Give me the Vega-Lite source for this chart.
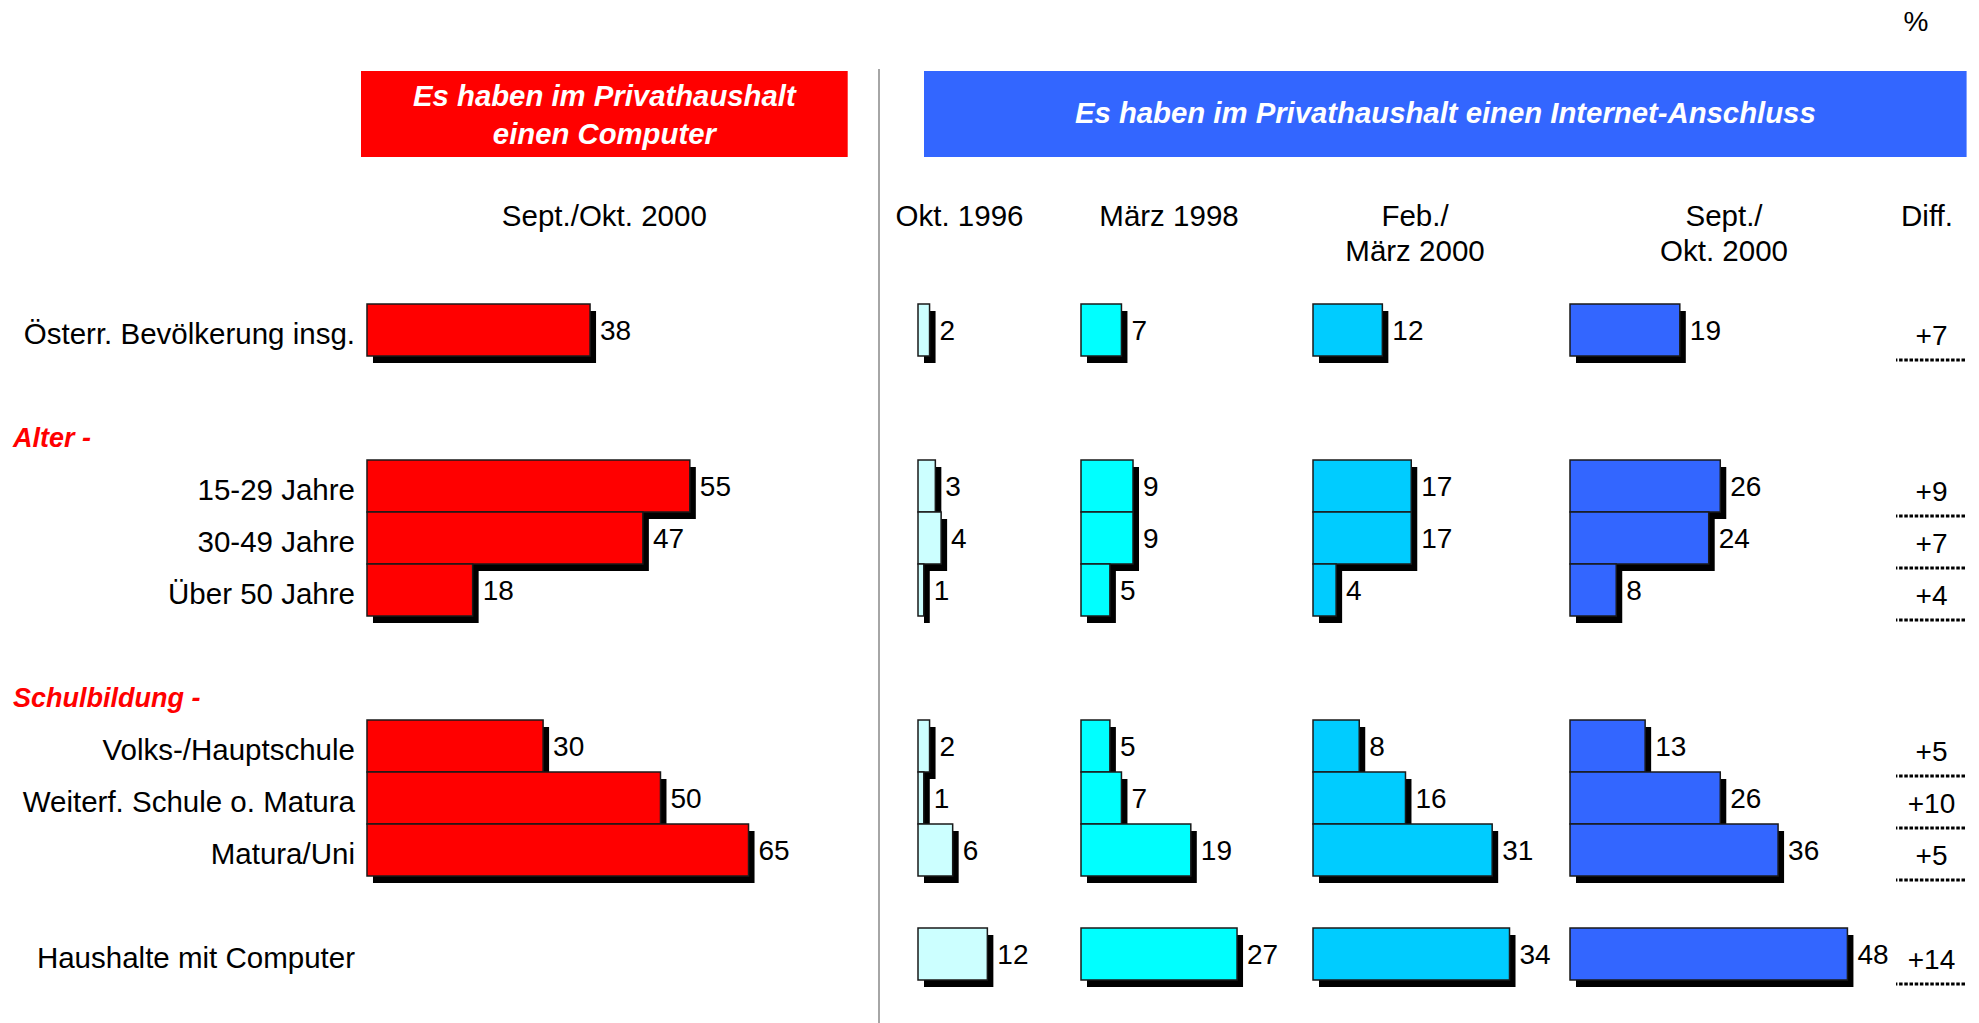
{
  "$schema": "https://vega.github.io/schema/vega-lite/v6.json",
  "padding": 0,
  "spacing": 0,
  "background": "white",
  "config": {
    "view": {"stroke": null},
    "font": "Liberation Sans",
    "text": {"font": "Liberation Sans", "fontSize": 28, "fill": "#000000"}
  },
  "datasets": {
    "bars": [
      {"row": "Österr. Bevölkerung insg.", "survey": "Computer Sept./Okt. 2000", "value": 38},
      {"row": "15-29 Jahre", "survey": "Computer Sept./Okt. 2000", "value": 55},
      {"row": "30-49 Jahre", "survey": "Computer Sept./Okt. 2000", "value": 47},
      {"row": "Über 50 Jahre", "survey": "Computer Sept./Okt. 2000", "value": 18},
      {"row": "Volks-/Hauptschule", "survey": "Computer Sept./Okt. 2000", "value": 30},
      {"row": "Weiterf. Schule o. Matura", "survey": "Computer Sept./Okt. 2000", "value": 50},
      {"row": "Matura/Uni", "survey": "Computer Sept./Okt. 2000", "value": 65},
      {"row": "Österr. Bevölkerung insg.", "survey": "Okt. 1996", "value": 2},
      {"row": "15-29 Jahre", "survey": "Okt. 1996", "value": 3},
      {"row": "30-49 Jahre", "survey": "Okt. 1996", "value": 4},
      {"row": "Über 50 Jahre", "survey": "Okt. 1996", "value": 1},
      {"row": "Volks-/Hauptschule", "survey": "Okt. 1996", "value": 2},
      {"row": "Weiterf. Schule o. Matura", "survey": "Okt. 1996", "value": 1},
      {"row": "Matura/Uni", "survey": "Okt. 1996", "value": 6},
      {"row": "Haushalte mit Computer", "survey": "Okt. 1996", "value": 12},
      {"row": "Österr. Bevölkerung insg.", "survey": "März 1998", "value": 7},
      {"row": "15-29 Jahre", "survey": "März 1998", "value": 9},
      {"row": "30-49 Jahre", "survey": "März 1998", "value": 9},
      {"row": "Über 50 Jahre", "survey": "März 1998", "value": 5},
      {"row": "Volks-/Hauptschule", "survey": "März 1998", "value": 5},
      {"row": "Weiterf. Schule o. Matura", "survey": "März 1998", "value": 7},
      {"row": "Matura/Uni", "survey": "März 1998", "value": 19},
      {"row": "Haushalte mit Computer", "survey": "März 1998", "value": 27},
      {"row": "Österr. Bevölkerung insg.", "survey": "Feb./März 2000", "value": 12},
      {"row": "15-29 Jahre", "survey": "Feb./März 2000", "value": 17},
      {"row": "30-49 Jahre", "survey": "Feb./März 2000", "value": 17},
      {"row": "Über 50 Jahre", "survey": "Feb./März 2000", "value": 4},
      {"row": "Volks-/Hauptschule", "survey": "Feb./März 2000", "value": 8},
      {"row": "Weiterf. Schule o. Matura", "survey": "Feb./März 2000", "value": 16},
      {"row": "Matura/Uni", "survey": "Feb./März 2000", "value": 31},
      {"row": "Haushalte mit Computer", "survey": "Feb./März 2000", "value": 34},
      {"row": "Österr. Bevölkerung insg.", "survey": "Sept./Okt. 2000", "value": 19},
      {"row": "15-29 Jahre", "survey": "Sept./Okt. 2000", "value": 26},
      {"row": "30-49 Jahre", "survey": "Sept./Okt. 2000", "value": 24},
      {"row": "Über 50 Jahre", "survey": "Sept./Okt. 2000", "value": 8},
      {"row": "Volks-/Hauptschule", "survey": "Sept./Okt. 2000", "value": 13},
      {"row": "Weiterf. Schule o. Matura", "survey": "Sept./Okt. 2000", "value": 26},
      {"row": "Matura/Uni", "survey": "Sept./Okt. 2000", "value": 36},
      {"row": "Haushalte mit Computer", "survey": "Sept./Okt. 2000", "value": 48}
    ],
    "diff": [
      {"row": "Österr. Bevölkerung insg.", "diff": 7},
      {"row": "15-29 Jahre", "diff": 9},
      {"row": "30-49 Jahre", "diff": 7},
      {"row": "Über 50 Jahre", "diff": 4},
      {"row": "Volks-/Hauptschule", "diff": 5},
      {"row": "Weiterf. Schule o. Matura", "diff": 10},
      {"row": "Matura/Uni", "diff": 5},
      {"row": "Haushalte mit Computer", "diff": 14}
    ],
    "labels": [
      {"row": "Österr. Bevölkerung insg.", "kind": "item"},
      {"row": "Alter -", "kind": "section"},
      {"row": "15-29 Jahre", "kind": "item"},
      {"row": "30-49 Jahre", "kind": "item"},
      {"row": "Über 50 Jahre", "kind": "item"},
      {"row": "Schulbildung -", "kind": "section"},
      {"row": "Volks-/Hauptschule", "kind": "item"},
      {"row": "Weiterf. Schule o. Matura", "kind": "item"},
      {"row": "Matura/Uni", "kind": "item"},
      {"row": "Haushalte mit Computer", "kind": "item"}
    ]
  },
  "hconcat": [
    {
      "vconcat": [
        {"width": 877.5, "height": 71, "data": {"values": []}, "mark": "text", "encoding": {}},
        {
          "hconcat": [
            {"width": 361, "height": 86, "data": {"values": []}, "mark": "text", "encoding": {}},
            {
              "width": 486.7, "height": 86,
              "view": {"fill": "#ff0000", "stroke": null},
              "data": {"values": [{"t": "Es haben im Privathaushalt\neinen Computer"}]},
              "mark": {"type": "text", "fill": "#ffffff", "fontSize": 29.3, "fontWeight": "bold", "fontStyle": "italic", "lineBreak": "\n", "lineHeight": 37.6, "baseline": "middle", "align": "center", "dy": -16.6},
              "encoding": {"text": {"field": "t"}}
            },
            {"width": 29.8, "height": 86, "data": {"values": []}, "mark": "text", "encoding": {}}
          ],
          "spacing": 0
        },
        {
          "hconcat": [
            {"width": 361, "height": 145.7, "data": {"values": []}, "mark": "text", "encoding": {}},
            {
              "width": 486.7, "height": 145.7,
              "data": {"values": [{"t": "Sept./Okt. 2000"}]},
              "mark": {"type": "text", "fontSize": 29.5, "baseline": "middle", "align": "center", "dy": -13},
              "encoding": {"text": {"field": "t"}}
            },
            {"width": 29.8, "height": 145.7, "data": {"values": []}, "mark": "text", "encoding": {}}
          ],
          "spacing": 0
        },
        {
          "width": 877.5, "height": 676,
          "layer": [
            {
              "data": {"name": "bars"},
              "transform": [{"filter": "datum.survey == 'Computer Sept./Okt. 2000'"}],
              "mark": {"type": "bar", "fill": "#000000", "xOffset": 6, "x2Offset": 6, "yOffset": 7, "y2Offset": 7},
              "encoding": {
                "x": {"field": "value", "type": "quantitative", "scale": {"domain": [-62.52, 86.97], "nice": false, "zero": false}, "axis": null},
                "y": {"field": "row", "type": "nominal", "sort": null, "scale": {"domain": ["Österr. Bevölkerung insg.", " ", "Alter -", "15-29 Jahre", "30-49 Jahre", "Über 50 Jahre", "  ", "Schulbildung -", "Volks-/Hauptschule", "Weiterf. Schule o. Matura", "Matura/Uni", "   ", "Haushalte mit Computer"], "paddingInner": 0, "paddingOuter": 0}, "axis": null}
              }
            },
            {
              "data": {"name": "bars"},
              "transform": [{"filter": "datum.survey == 'Computer Sept./Okt. 2000'"}],
              "mark": {"type": "bar", "fill": "#ff0000", "stroke": "#1a1a1a", "strokeWidth": 1.5},
              "encoding": {
                "x": {"field": "value", "type": "quantitative", "scale": {"domain": [-62.52, 86.97], "nice": false, "zero": false}, "axis": null},
                "y": {"field": "row", "type": "nominal", "sort": null, "scale": {"domain": ["Österr. Bevölkerung insg.", " ", "Alter -", "15-29 Jahre", "30-49 Jahre", "Über 50 Jahre", "  ", "Schulbildung -", "Volks-/Hauptschule", "Weiterf. Schule o. Matura", "Matura/Uni", "   ", "Haushalte mit Computer"], "paddingInner": 0, "paddingOuter": 0}, "axis": null}
              }
            },
            {
              "data": {"name": "bars"},
              "transform": [{"filter": "datum.survey == 'Computer Sept./Okt. 2000'"}],
              "mark": {"type": "text", "align": "left", "baseline": "middle", "dx": 10, "dy": 2},
              "encoding": {
                "x": {"field": "value", "type": "quantitative", "scale": {"domain": [-62.52, 86.97], "nice": false, "zero": false}, "axis": null},
                "y": {"field": "row", "type": "nominal", "sort": null, "scale": {"domain": ["Österr. Bevölkerung insg.", " ", "Alter -", "15-29 Jahre", "30-49 Jahre", "Über 50 Jahre", "  ", "Schulbildung -", "Volks-/Hauptschule", "Weiterf. Schule o. Matura", "Matura/Uni", "   ", "Haushalte mit Computer"], "paddingInner": 0, "paddingOuter": 0}, "axis": null},
                "text": {"field": "value", "type": "quantitative"}
              }
            },
            {
              "data": {"name": "labels"},
              "transform": [{"filter": "datum.kind == 'item'"}],
              "mark": {"type": "text", "fontSize": 29.5, "align": "right", "baseline": "middle", "dx": -12, "dy": 5},
              "encoding": {
                "x": {"datum": 0, "type": "quantitative", "scale": {"domain": [-62.52, 86.97], "nice": false, "zero": false}, "axis": null},
                "y": {"field": "row", "type": "nominal", "sort": null, "scale": {"domain": ["Österr. Bevölkerung insg.", " ", "Alter -", "15-29 Jahre", "30-49 Jahre", "Über 50 Jahre", "  ", "Schulbildung -", "Volks-/Hauptschule", "Weiterf. Schule o. Matura", "Matura/Uni", "   ", "Haushalte mit Computer"], "paddingInner": 0, "paddingOuter": 0}, "axis": null},
                "text": {"field": "row"}
              }
            },
            {
              "data": {"name": "labels"},
              "transform": [{"filter": "datum.kind == 'section'"}],
              "mark": {"type": "text", "fontSize": 27, "align": "left", "baseline": "middle", "dx": 13, "dy": 5, "fill": "#ff0000", "fontWeight": "bold", "fontStyle": "italic"},
              "encoding": {
                "x": {"datum": -62.52, "type": "quantitative", "scale": {"domain": [-62.52, 86.97], "nice": false, "zero": false}, "axis": null},
                "y": {"field": "row", "type": "nominal", "sort": null, "scale": {"domain": ["Österr. Bevölkerung insg.", " ", "Alter -", "15-29 Jahre", "30-49 Jahre", "Über 50 Jahre", "  ", "Schulbildung -", "Volks-/Hauptschule", "Weiterf. Schule o. Matura", "Matura/Uni", "   ", "Haushalte mit Computer"], "paddingInner": 0, "paddingOuter": 0}, "axis": null},
                "text": {"field": "row"}
              }
            }
          ]
        }
      ],
      "spacing": 0
    },
    {
      "vconcat": [
        {"width": 2, "height": 69, "data": {"values": []}, "mark": "text", "encoding": {}},
        {"width": 2, "height": 954, "view": {"fill": "#a6a6a6", "stroke": null}, "data": {"values": []}, "mark": "text", "encoding": {}}
      ],
      "spacing": 0
    },
    {
      "vconcat": [
        {
          "hconcat": [
            {"width": 974, "height": 71, "data": {"values": []}, "mark": "text", "encoding": {}},
            {
              "width": 124, "height": 71,
              "data": {"values": [{"t": "%"}]},
              "mark": {"type": "text", "baseline": "middle", "align": "center", "dy": -13},
              "encoding": {"text": {"field": "t"}}
            }
          ],
          "spacing": 0
        },
        {
          "hconcat": [
            {"width": 44, "height": 86, "data": {"values": []}, "mark": "text", "encoding": {}},
            {
              "width": 1042.6, "height": 86,
              "view": {"fill": "#3366ff", "stroke": null},
              "data": {"values": [{"t": "Es haben im Privathaushalt einen Internet-Anschluss"}]},
              "mark": {"type": "text", "fill": "#ffffff", "fontSize": 29.3, "fontWeight": "bold", "fontStyle": "italic", "baseline": "middle", "align": "center", "dy": 0},
              "encoding": {"text": {"field": "t"}}
            },
            {"width": 11.4, "height": 86, "data": {"values": []}, "mark": "text", "encoding": {}}
          ],
          "spacing": 0
        },
        {
          "hconcat": [
            {"width": 159, "height": 145.7, "data": {"values": [{"t": "Okt. 1996"}]}, "mark": {"type": "text", "fontSize": 29.5, "baseline": "middle", "align": "center", "dy": -13, "lineBreak": "\n", "lineHeight": 35}, "encoding": {"text": {"field": "t"}}},
            {"width": 260, "height": 145.7, "data": {"values": [{"t": "März 1998"}]}, "mark": {"type": "text", "fontSize": 29.5, "baseline": "middle", "align": "center", "dy": -13, "lineBreak": "\n", "lineHeight": 35}, "encoding": {"text": {"field": "t"}}},
            {"width": 232, "height": 145.7, "data": {"values": [{"t": "Feb./\nMärz 2000"}]}, "mark": {"type": "text", "fontSize": 29.5, "baseline": "middle", "align": "center", "dy": -13, "lineBreak": "\n", "lineHeight": 35}, "encoding": {"text": {"field": "t"}}},
            {"width": 43, "height": 145.7, "data": {"values": []}, "mark": "text", "encoding": {}},
            {"width": 300, "height": 145.7, "data": {"values": [{"t": "Sept./\nOkt. 2000"}]}, "mark": {"type": "text", "fontSize": 29.5, "baseline": "middle", "align": "center", "dy": -13, "lineBreak": "\n", "lineHeight": 35}, "encoding": {"text": {"field": "t"}}},
            {"width": 3, "height": 145.7, "data": {"values": []}, "mark": "text", "encoding": {}},
            {"width": 100, "height": 145.7, "data": {"values": [{"t": "Diff."}]}, "mark": {"type": "text", "fontSize": 29.5, "baseline": "middle", "align": "center", "dy": -13, "lineBreak": "\n", "lineHeight": 35}, "encoding": {"text": {"field": "t"}}},
            {"width": 1, "height": 145.7, "data": {"values": []}, "mark": "text", "encoding": {}}
          ],
          "spacing": 0
        },
        {
          "hconcat": [
            {"width": 36.2, "height": 676, "data": {"values": []}, "mark": "text", "encoding": {}},
            {
              "width": 161.9, "height": 676,
              "data": {"name": "bars"},
              "transform": [{"filter": "datum.survey == 'Okt. 1996'"}],
              "encoding": {
                "x": {"field": "value", "type": "quantitative", "scale": {"domain": [0, 28.01], "nice": false, "zero": false}, "axis": null},
                "y": {"field": "row", "type": "nominal", "sort": null, "scale": {"domain": ["Österr. Bevölkerung insg.", " ", "Alter -", "15-29 Jahre", "30-49 Jahre", "Über 50 Jahre", "  ", "Schulbildung -", "Volks-/Hauptschule", "Weiterf. Schule o. Matura", "Matura/Uni", "   ", "Haushalte mit Computer"], "paddingInner": 0, "paddingOuter": 0}, "axis": null}
              },
              "layer": [
                {"mark": {"type": "bar", "fill": "#000000", "xOffset": 6, "x2Offset": 6, "yOffset": 7, "y2Offset": 7}},
                {"mark": {"type": "bar", "fill": "#ccffff", "stroke": "#1a1a1a", "strokeWidth": 1.5}},
                {"mark": {"type": "text", "align": "left", "baseline": "middle", "dx": 10, "dy": 2}, "encoding": {"text": {"field": "value", "type": "quantitative"}}}
              ]
            },
            {
              "width": 231, "height": 676,
              "data": {"name": "bars"},
              "transform": [{"filter": "datum.survey == 'März 1998'"}],
              "encoding": {
                "x": {"field": "value", "type": "quantitative", "scale": {"domain": [0, 39.97], "nice": false, "zero": false}, "axis": null},
                "y": {"field": "row", "type": "nominal", "sort": null, "scale": {"domain": ["Österr. Bevölkerung insg.", " ", "Alter -", "15-29 Jahre", "30-49 Jahre", "Über 50 Jahre", "  ", "Schulbildung -", "Volks-/Hauptschule", "Weiterf. Schule o. Matura", "Matura/Uni", "   ", "Haushalte mit Computer"], "paddingInner": 0, "paddingOuter": 0}, "axis": null}
              },
              "layer": [
                {"mark": {"type": "bar", "fill": "#000000", "xOffset": 6, "x2Offset": 6, "yOffset": 7, "y2Offset": 7}},
                {"mark": {"type": "bar", "fill": "#00ffff", "stroke": "#1a1a1a", "strokeWidth": 1.5}},
                {"mark": {"type": "text", "align": "left", "baseline": "middle", "dx": 10, "dy": 2}, "encoding": {"text": {"field": "value", "type": "quantitative"}}}
              ]
            },
            {
              "width": 255.3, "height": 676,
              "data": {"name": "bars"},
              "transform": [{"filter": "datum.survey == 'Feb./März 2000'"}],
              "encoding": {
                "x": {"field": "value", "type": "quantitative", "scale": {"domain": [0, 44.17], "nice": false, "zero": false}, "axis": null},
                "y": {"field": "row", "type": "nominal", "sort": null, "scale": {"domain": ["Österr. Bevölkerung insg.", " ", "Alter -", "15-29 Jahre", "30-49 Jahre", "Über 50 Jahre", "  ", "Schulbildung -", "Volks-/Hauptschule", "Weiterf. Schule o. Matura", "Matura/Uni", "   ", "Haushalte mit Computer"], "paddingInner": 0, "paddingOuter": 0}, "axis": null}
              },
              "layer": [
                {"mark": {"type": "bar", "fill": "#000000", "xOffset": 6, "x2Offset": 6, "yOffset": 7, "y2Offset": 7}},
                {"mark": {"type": "bar", "fill": "#00ccff", "stroke": "#1a1a1a", "strokeWidth": 1.5}},
                {"mark": {"type": "text", "align": "left", "baseline": "middle", "dx": 10, "dy": 2}, "encoding": {"text": {"field": "value", "type": "quantitative"}}}
              ]
            },
            {
              "width": 323.9, "height": 676,
              "data": {"name": "bars"},
              "transform": [{"filter": "datum.survey == 'Sept./Okt. 2000'"}],
              "encoding": {
                "x": {"field": "value", "type": "quantitative", "scale": {"domain": [0, 56.04], "nice": false, "zero": false}, "axis": null},
                "y": {"field": "row", "type": "nominal", "sort": null, "scale": {"domain": ["Österr. Bevölkerung insg.", " ", "Alter -", "15-29 Jahre", "30-49 Jahre", "Über 50 Jahre", "  ", "Schulbildung -", "Volks-/Hauptschule", "Weiterf. Schule o. Matura", "Matura/Uni", "   ", "Haushalte mit Computer"], "paddingInner": 0, "paddingOuter": 0}, "axis": null}
              },
              "layer": [
                {"mark": {"type": "bar", "fill": "#000000", "xOffset": 6, "x2Offset": 6, "yOffset": 7, "y2Offset": 7}},
                {"mark": {"type": "bar", "fill": "#3366ff", "stroke": "#1a1a1a", "strokeWidth": 1.5}},
                {"mark": {"type": "text", "align": "left", "baseline": "middle", "dx": 10, "dy": 2}, "encoding": {"text": {"field": "value", "type": "quantitative"}}}
              ]
            },
            {
              "width": 69, "height": 676,
              "data": {"name": "diff"},
              "layer": [
                {
                  "mark": {"type": "text", "align": "center", "baseline": "middle", "dx": 1, "dy": 7},
                  "encoding": {
                    "y": {"field": "row", "type": "nominal", "sort": null, "scale": {"domain": ["Österr. Bevölkerung insg.", " ", "Alter -", "15-29 Jahre", "30-49 Jahre", "Über 50 Jahre", "  ", "Schulbildung -", "Volks-/Hauptschule", "Weiterf. Schule o. Matura", "Matura/Uni", "   ", "Haushalte mit Computer"], "paddingInner": 0, "paddingOuter": 0}, "axis": null},
                    "text": {"field": "diff", "type": "quantitative", "format": "+d"}
                  }
                },
                {
                  "mark": {"type": "rule", "stroke": "#000000", "strokeWidth": 3, "strokeDash": [3.5, 1.7], "yOffset": 4},
                  "encoding": {
                    "y": {"field": "row", "type": "nominal", "sort": null, "bandPosition": 1, "scale": {"domain": ["Österr. Bevölkerung insg.", " ", "Alter -", "15-29 Jahre", "30-49 Jahre", "Über 50 Jahre", "  ", "Schulbildung -", "Volks-/Hauptschule", "Weiterf. Schule o. Matura", "Matura/Uni", "   ", "Haushalte mit Computer"], "paddingInner": 0, "paddingOuter": 0}, "axis": null}
                  }
                }
              ]
            },
            {"width": 20.7, "height": 676, "data": {"values": []}, "mark": "text", "encoding": {}}
          ],
          "spacing": 0
        }
      ],
      "spacing": 0
    }
  ]
}
